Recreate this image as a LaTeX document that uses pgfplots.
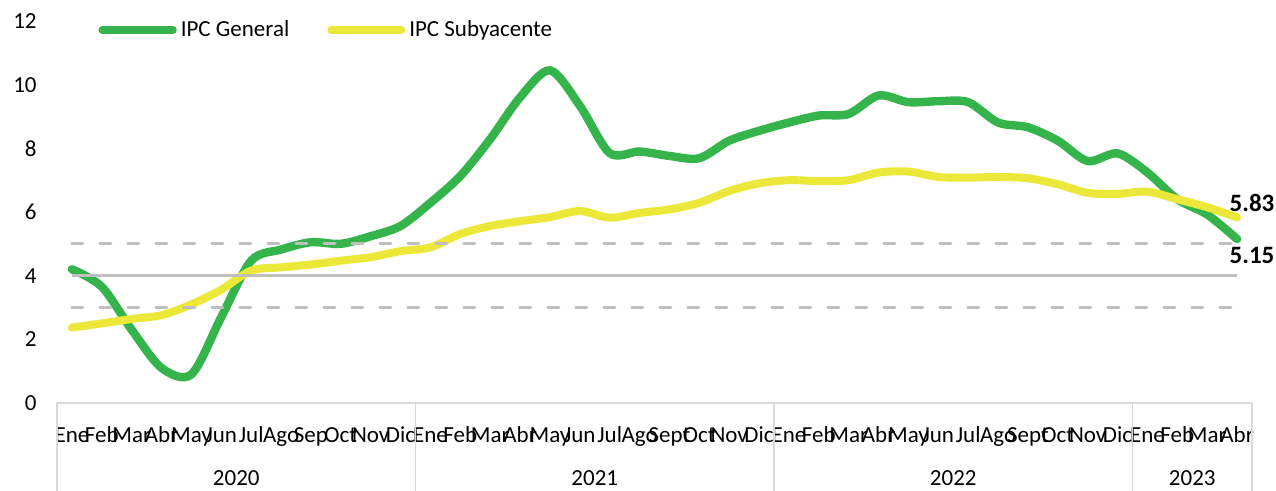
\documentclass[border=0pt]{standalone}
\usepackage{pgfplots}
\pgfplotsset{compat=1.18}
\usepackage{fontspec}
\setmainfont{Carlito}
\definecolor{ipcgreen}{HTML}{34B44A}
\definecolor{ipcyellow}{HTML}{EBE83A}
\definecolor{refgray}{HTML}{BFBFBF}
\definecolor{axgray}{HTML}{D9D9D9}
\begin{document}
\begin{tikzpicture}
\useasboundingbox (0,0) rectangle (638pt,245.5pt);
\begin{axis}[
  at={(28.5pt,44pt)}, anchor=south west,
  scale only axis, width=597.5pt, height=191pt,
  xmin=-0.5, xmax=39.5, ymin=0, ymax=12,
  ytick={0,2,...,12},
  xtick={0,...,39},
  xticklabels={Ene,Feb,Mar,Abr,May,Jun,Jul,Ago,Sep,Oct,Nov,Dic,Ene,Feb,Mar,Abr,May,Jun,Jul,Ago,Sept,Oct,Nov,Dic,Ene,Feb,Mar,Abr,May,Jun,Jul,Ago,Sept,Oct,Nov,Dic,Ene,Feb,Mar,Abr},
  axis line style={draw=none},
  major tick length=0pt,
  tick style={draw=none},
  /pgf/number format/assume math mode=true,
  yticklabel style={anchor=east, inner sep=0pt, xshift=-10pt, font=\fontsize{11.5}{13}\selectfont},
  xticklabel style={anchor=base, inner sep=0pt, yshift=-20pt, font=\fontsize{11.5}{13}\selectfont},
  clip=false,
  legend style={at={(rel axis cs:0.0293,0.976)}, anchor=west, draw=none, fill=none,
    font=\fontsize{11.5}{13}\selectfont, /tikz/every even column/.append style={column sep=17pt}},
  legend columns=2,
  legend image code/.code={\draw[#1, line cap=round] (0pt,0pt) -- (35pt,0pt);},
]
\addplot[ipcgreen, line width=4.2pt, smooth, line cap=round] coordinates {
(0,4.2) (1,3.65) (2,2.3) (3,1.1) (4,0.9) (5,2.7) (6,4.47) (7,4.82) (8,5.05) (9,5.0)
(10,5.24) (11,5.56) (12,6.29) (13,7.13) (14,8.29) (15,9.6) (16,10.45) (17,9.34) (18,7.85) (19,7.9)
(20,7.76) (21,7.69) (22,8.24) (23,8.55) (24,8.81) (25,9.03) (26,9.08) (27,9.66) (28,9.45) (29,9.48)
(30,9.45) (31,8.81) (32,8.66) (33,8.24) (34,7.6) (35,7.84) (36,7.24) (37,6.4) (38,5.92) (39,5.15)};
\addlegendentry{IPC General}
\addplot[ipcyellow, line width=4pt, smooth, line cap=round] coordinates {
(0,2.37) (1,2.5) (2,2.64) (3,2.76) (4,3.1) (5,3.56) (6,4.16) (7,4.26) (8,4.35) (9,4.47)
(10,4.58) (11,4.77) (12,4.89) (13,5.31) (14,5.56) (15,5.71) (16,5.84) (17,6.03) (18,5.82) (19,5.97)
(20,6.08) (21,6.29) (22,6.66) (23,6.9) (24,7.0) (25,6.97) (26,7.0) (27,7.24) (28,7.27) (29,7.1)
(30,7.08) (31,7.1) (32,7.06) (33,6.87) (34,6.6) (35,6.57) (36,6.64) (37,6.4) (38,6.15) (39,5.83)};
\addlegendentry{IPC Subyacente}
\addplot[refgray, line width=1.5pt, forget plot] coordinates {(0,4) (39,4)};
\addplot[refgray, line width=1.5pt, line cap=round, dash pattern=on 5.5pt off 8.5pt, forget plot] coordinates {(0,3) (39,3)};
\addplot[refgray, line width=1.5pt, line cap=round, dash pattern=on 5.5pt off 8.5pt, forget plot] coordinates {(0,5) (39,5)};
\draw[axgray, line width=0.75pt] (axis cs:-0.5,0) -- (axis cs:39.5,0);
\draw[axgray, line width=0.75pt] (axis cs:-0.5,0) -- ++(0pt,-44pt);
\draw[axgray, line width=0.75pt] (axis cs:11.5,0) -- ++(0pt,-44pt);
\draw[axgray, line width=0.75pt] (axis cs:23.5,0) -- ++(0pt,-44pt);
\draw[axgray, line width=0.75pt] (axis cs:35.5,0) -- ++(0pt,-44pt);
\draw[axgray, line width=0.75pt] (axis cs:39.5,0) -- ++(0pt,-44pt);
\node[anchor=base, yshift=-41.5pt, font=\fontsize{11.5}{13}\selectfont] at (axis cs:5.5,0) {2020};
\node[anchor=base, yshift=-41.5pt, font=\fontsize{11.5}{13}\selectfont] at (axis cs:17.5,0) {2021};
\node[anchor=base, yshift=-41.5pt, font=\fontsize{11.5}{13}\selectfont] at (axis cs:29.5,0) {2022};
\node[anchor=base, yshift=-41.5pt, font=\fontsize{11.5}{13}\selectfont] at (axis cs:37.5,0) {2023};
\node[font=\bfseries\fontsize{12.5}{14}\selectfont, xshift=7.5pt, yshift=7pt] at (axis cs:39,5.83) {5.83};
\node[font=\bfseries\fontsize{12.5}{14}\selectfont, xshift=7.5pt, yshift=-8pt] at (axis cs:39,5.15) {5.15};
\end{axis}
\end{tikzpicture}
\end{document}
